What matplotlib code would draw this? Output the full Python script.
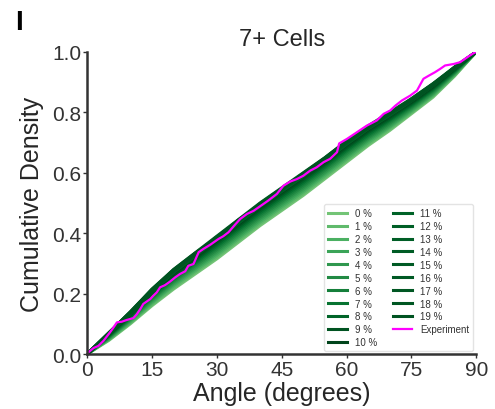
import matplotlib
matplotlib.use("Agg")
import matplotlib.pyplot as plt
from matplotlib import cm

plt.rcParams['font.family'] = ['Liberation Sans', 'DejaVu Sans']

# simulated cumulative curves, sampled every 5 degrees
angles = [0, 5, 10, 15, 20, 25, 30, 35, 40, 45, 50, 55, 60, 65, 70, 75, 80, 85, 90]
noise_labels = ['%d %%' % i for i in range(20)]
sim_cdfs = [
    [0, .045, .100, .160, .215, .265, .315, .370, .425, .475, .525, .580, .635, .690, .740, .795, .850, .920, 1.0],
    [0, .047, .103, .164, .220, .271, .321, .376, .431, .481, .531, .586, .641, .695, .745, .799, .854, .922, 1.0],
    [0, .049, .106, .169, .226, .276, .327, .382, .437, .487, .537, .591, .646, .700, .750, .803, .857, .925, 1.0],
    [0, .051, .110, .173, .231, .282, .333, .388, .443, .493, .543, .597, .652, .706, .754, .807, .861, .927, 1.0],
    [0, .053, .113, .178, .236, .287, .339, .394, .449, .499, .549, .602, .657, .711, .759, .811, .864, .930, 1.0],
    [0, .055, .116, .182, .241, .293, .345, .400, .455, .505, .555, .608, .663, .716, .764, .815, .868, .932, 1.0],
    [0, .057, .119, .186, .246, .299, .351, .406, .461, .511, .561, .614, .669, .721, .769, .819, .872, .934, 1.0],
    [0, .059, .122, .191, .251, .304, .357, .412, .467, .517, .567, .619, .674, .726, .774, .823, .875, .937, 1.0],
    [0, .061, .126, .195, .257, .310, .363, .418, .473, .523, .573, .625, .680, .732, .778, .827, .879, .939, 1.0],
    [0, .063, .129, .200, .262, .315, .369, .424, .479, .529, .579, .630, .685, .737, .783, .831, .882, .942, 1.0],
    [0, .065, .132, .204, .267, .321, .375, .430, .485, .535, .585, .636, .691, .742, .788, .835, .886, .944, 1.0],
    [0, .066, .134, .206, .270, .324, .378, .433, .488, .538, .588, .639, .694, .745, .790, .837, .888, .945, 1.0],
    [0, .067, .135, .208, .272, .327, .381, .436, .491, .541, .591, .642, .697, .747, .793, .839, .890, .946, 1.0],
    [0, .068, .137, .211, .275, .329, .384, .439, .494, .544, .594, .644, .699, .750, .795, .841, .891, .948, 1.0],
    [0, .069, .138, .213, .277, .332, .387, .442, .497, .547, .597, .647, .702, .752, .798, .843, .893, .949, 1.0],
    [0, .070, .140, .215, .280, .335, .390, .445, .500, .550, .600, .650, .705, .755, .800, .845, .895, .950, 1.0],
    [0, .068, .136, .210, .276, .330, .386, .440, .492, .545, .595, .646, .700, .749, .796, .842, .892, .947, 1.0],
    [0, .069, .139, .212, .274, .333, .385, .443, .496, .543, .596, .648, .703, .751, .797, .840, .890, .948, 1.0],
    [0, .067, .137, .214, .278, .328, .388, .438, .498, .548, .592, .645, .698, .753, .794, .844, .894, .946, 1.0],
    [0, .070, .138, .209, .279, .334, .383, .444, .493, .546, .598, .649, .704, .748, .799, .838, .889, .949, 1.0],
]

# experiment cdf
exp_angle = [0, 0.3, 1.5, 2.6, 3.8, 5.3, 6.1, 6.9, 8.0, 9.2, 10.7, 11.5, 12.3, 13.0, 13.8,
             14.6, 15.3, 16.1, 16.9, 18.0, 19.2, 20.4, 21.5, 22.7, 23.4, 24.6, 25.8, 26.9, 28.5, 30.4,
             31.5, 32.7, 33.9, 35.4, 37.0, 38.5, 40.0, 41.9, 43.9, 45.4, 47.0, 48.5, 50.0, 51.6, 53.1,
             54.7, 56.2, 57.8, 58.3, 60.1, 62.4, 64.7, 67.0, 68.6, 70.1, 71.3, 72.8, 74.7, 76.3, 77.8,
             79.0, 80.5, 81.7, 82.8, 84.8, 86.3, 87.9, 89.4, 90]
exp_cdf = [0, .006, .02, .027, .044, .072, .088, .105, .107, .113, .119, .132, .149, .166, .174,
           .182, .193, .204, .221, .228, .24, .254, .265, .274, .292, .298, .337, .348, .362, .381,
           .39, .403, .423, .447, .464, .474, .489, .508, .53, .557, .571, .579, .59, .607, .618,
           .635, .646, .668, .697, .712, .734, .756, .773, .795, .806, .822, .839, .855, .872, .911,
           .921, .933, .944, .955, .96, .966, .982, .996, 1.0]

x_ticks = [0, 15, 30, 45, 60, 75, 90]
y_ticks = [0.0, 0.2, 0.4, 0.6, 0.8, 1.0]


def curveColor(i):
    if i <= 10:
        return cm.Greens(0.5 + 0.05 * i)
    return cm.Greens(0.91 + 0.005 * (i - 11))


fig = plt.figure(figsize=(4.95, 4.1), dpi=100)
ax = fig.add_axes([0.176, 0.134, 0.786, 0.737])

for i, cdf in enumerate(sim_cdfs):
    ax.plot(angles, cdf, color=curveColor(i), lw=2.2, label=noise_labels[i])
ax.plot(exp_angle, exp_cdf, color='#ff00ff', lw=1.6, label='Experiment')

ax.set_xlim(0, 90)
ax.set_ylim(0, 1)
ax.set_xticks(x_ticks)
ax.set_yticks(y_ticks)
ax.set_yticklabels(['%.1f' % v for v in y_ticks])
ax.tick_params(labelsize=15, length=3, width=1, colors='#333333', pad=1)

for side in ['top', 'right']:
    ax.spines[side].set_visible(False)
for side in ['left', 'bottom']:
    ax.spines[side].set_color('#333333')
    ax.spines[side].set_linewidth(1.8)

ax.set_title('7+ Cells', fontsize=17, color='#262626', pad=5)
ax.set_xlabel('Angle (degrees)', fontsize=18, color='#262626', labelpad=2)
ax.set_ylabel('Cumulative Density', fontsize=18, color='#262626', labelpad=6)

leg = ax.legend(loc='lower right', ncol=2, fontsize=7, handlelength=2.0,
                labelspacing=0.3, columnspacing=1.6, borderaxespad=0.3,
                frameon=True, fancybox=True)
leg.get_frame().set_edgecolor('#dddddd')
for t in leg.get_texts():
    t.set_color('#333333')

fig.text(0.03, 0.975, 'I', fontsize=20, fontweight='bold', va='top')

fig.savefig('out.png', dpi=100)
